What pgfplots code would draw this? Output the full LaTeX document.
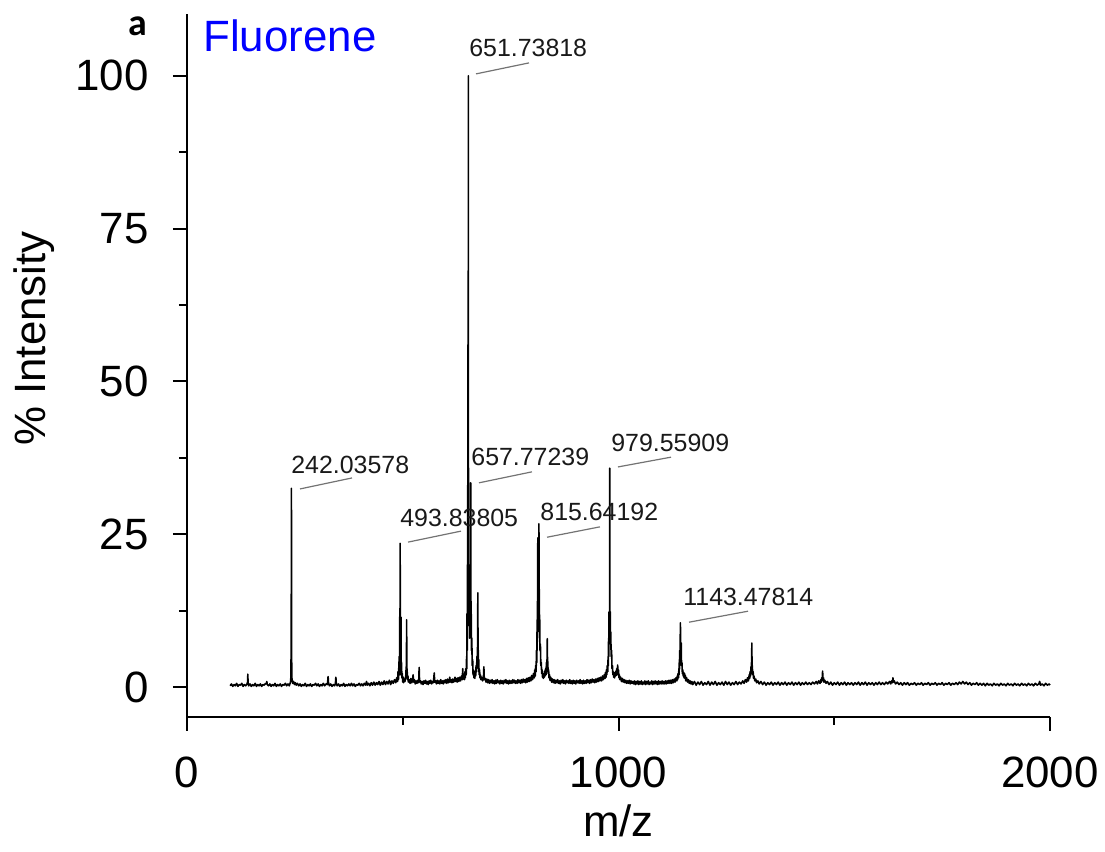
\documentclass[border=0pt]{standalone}
\usepackage{pgfplots}
\pgfplotsset{compat=1.18}
\usepackage{fontspec}
\setmainfont{Liberation Sans}
\newfontfamily\calibri{Carlito}
\definecolor{lead}{gray}{0.45}
\definecolor{ann}{gray}{0.1}
\begin{document}
\begin{tikzpicture}
\useasboundingbox (-93.5bp,-67.65bp) rectangle (459bp,358.35bp);
\begin{axis}[
  at={(0,0)}, anchor=south west,
  scale only axis, width=431.5bp, height=351.35bp,
  xmin=0, xmax=2000, ymin=-4.86, ymax=110.1,
  axis lines*=left,
  axis line style={line width=1bp, black},
  every tick/.style={line width=1bp, black},
  tick align=outside,
  major tick length=7bp, minor tick length=4bp,
  xtick={0,1000,2000}, ytick={0,25,50,75,100},
  minor x tick num=1, minor y tick num=1,
  /pgf/number format/assume math mode=true,
  /pgf/number format/1000 sep={},
  ticklabel style={font=\fontsize{22}{26}\selectfont},
  xticklabel style={anchor=north, inner sep=0pt, yshift=-13bp},
  yticklabel style={anchor=east, inner sep=0pt, xshift=-12bp},
  clip=false,
]
\addplot[black, line width=0.8bp, line join=round] coordinates {
(100,0.2)(103,0.5)(106,0.1)(109,0.4)(112,0.2)(115,0.6)(118,0.1)(121,0.4)(124,0.3)(127,0.6)(130,0.1)(133,0.4)(136,0.2)(139,0.5)(140.5,0.8)(141,2.1)(141.5,0.7)(143,0.2)(146,0.5)(149,0.1)(152,0.4)(155,0.2)(158,0.6)(161,0.1)(164,0.4)(167,0.2)(170,0.5)(173,0.1)(176,0.4)(179,0.3)(182,0.6)(184,0.5)(185,0.9)(186,0.4)(189,0.2)(192,0.5)(195,0.1)(198,0.4)(201,0.2)(204,0.6)(207,0.1)(210,0.4)(213,0.2)(216,0.5)(219,0.1)(222,0.4)(225,0.3)(228,0.6)(231,0.2)(234,0.5)(237,0.2)(239,0.6)
(240.5,1.0)(241,4.5)(241.5,2.0)(242,32.5)(242.5,5.0)(243,1.5)(244,1.0)(245,0.6)(247,0.9)(249,0.4)(251,0.7)(253,0.3)(256,0.6)(259,0.2)(262,0.5)(265,0.1)(268,0.4)(271,0.2)(274,0.6)(277,0.1)(280,0.4)(283,0.2)(286,0.5)(289,0.1)(292,0.4)(295,0.3)(298,0.6)(301,0.2)(304,0.5)(307,0.1)(310,0.4)(313,0.2)(316,0.6)(319,0.2)(322,0.5)(325,0.4)(326,0.8)(327,1.7)(328,0.6)(330,0.2)(333,0.5)(336,0.1)(339,0.4)(342,0.2)(344,0.6)(345,1.6)(346,0.5)(348,0.2)(351,0.5)(354,0.1)(357,0.4)(360,0.2)(363,0.6)(366,0.1)(369,0.4)(372,0.2)(375,0.5)(378,0.2)(381,0.6)(384,0.2)(387,0.5)(390,0.1)(393,0.4)(396,0.3)(399,0.6)(402,0.2)(405,0.5)(408,0.2)(411,0.6)(414,0.3)(416,0.9)(418,0.3)(421,0.6)(424,0.2)(427,0.7)(430,0.3)(433,0.8)(436,0.3)(439,0.7)(442,0.4)(445,0.9)(448,0.3)(451,0.8)(454,0.4)(457,1.0)(460,0.4)(463,0.9)(466,0.5)(469,1.1)(472,0.4)(475,1.0)(478,0.6)(481,1.2)(484,0.7)(486,1.5)(488,0.9)
(489,2.5)(490,1.2)(491,3.5)(492,5.0)(492.5,2.0)(493,11.5)(493.5,3.0)(494,23.5)(494.5,4.0)(495,6.0)(495.5,2.0)(496,11.4)(496.5,2.5)(497,4.0)(498,1.5)(499,2.2)(500,0.8)(501,1.6)(502,0.7)(503,1.3)(505,0.9)(507,1.8)(508,3.3)(508.5,1.5)(509,11.0)(509.5,2.0)(510,3.0)(511,1.2)(512,1.8)(513,0.8)(515,1.2)(517,0.6)(519,1.4)(521,0.7)(523,1.1)(524,2.0)(525,0.8)(527,1.2)(529,0.5)(531,1.0)(533,0.6)(535,1.1)(537,0.7)(538,3.2)(539,0.8)(541,1.0)(543,0.5)(545,0.9)(547,0.4)(549,1.0)(551,0.6)(553,1.1)(555,0.5)(557,0.9)(559,0.4)(561,1.0)(563,0.6)(565,1.1)(567,0.5)(569,0.9)(571,0.7)(573,2.3)(574,0.8)(576,1.0)(578,0.5)(580,1.1)(582,0.6)(584,1.0)(586,0.5)(588,1.2)(590,0.6)(592,1.0)(594,0.5)(596,1.1)(598,0.7)(600,1.2)(602,0.6)(604,1.3)(606,0.7)(608,1.0)(609,1.6)(610,0.8)(612,1.2)(614,0.7)(616,1.3)(618,0.8)(620,1.1)(621,1.6)(622,0.9)(624,1.4)(626,0.8)(628,1.5)(630,0.9)(632,1.6)(634,1.0)(636,1.8)(638,1.2)(639,3.0)(640,1.3)(642,2.0)(643,1.2)(644,2.5)(645,1.5)(646,3.0)(647,2.0)
(648,5.0)(648.5,3.0)(649,12.0)(649.5,6.0)(650,20.0)(650.5,10.0)(651,56.0)(651.3,18.0)(651.6,64.0)(651.8,30.0)(652,100.0)(652.3,25.0)(652.6,20.0)(653,15.0)(653.5,18.0)(654,10.0)(654.5,14.0)(655,8.0)(655.5,17.0)(656,9.0)(656.5,20.0)(657,12.0)(657.5,33.4)(658,10.0)(658.5,14.0)(659,6.0)(660,8.0)(661,3.5)(662,4.5)(663,2.0)(664,2.8)(665,1.5)(666,2.2)(667,1.4)(668,2.6)(669,1.8)(670,3.5)(671,2.5)(672,5.0)(672.5,3.5)(673,6.5)(673.5,4.0)(674,15.4)(674.5,5.0)(675,6.0)(675.5,3.0)(676,4.5)(677,2.0)(678,2.8)(679,1.5)(680,2.0)(681,1.2)(683,1.6)(685,1.0)(687,1.5)(688,3.3)(689,1.2)(691,1.4)(693,0.8)(695,1.3)(697,0.7)(699,1.2)(701,0.6)(703,1.1)(705,0.7)(707,1.2)(709,0.6)(711,1.0)(713,0.5)(715,1.1)(717,0.6)(719,1.2)(721,0.7)(723,1.0)(725,0.5)(727,1.1)(729,0.6)(731,1.0)(733,0.5)(735,1.1)(737,0.7)(739,1.2)(741,0.6)(743,1.0)(745,0.5)(747,1.1)(749,0.6)(751,1.0)(753,0.6)(755,1.2)(757,0.7)(759,1.1)(761,0.6)(763,1.0)(765,0.6)(767,1.2)(769,0.7)(771,1.1)(773,0.6)(775,1.2)(777,0.7)(779,1.3)(781,0.8)(783,1.2)(785,0.7)(787,1.4)(789,0.8)(791,1.5)(793,0.9)(795,1.6)(797,1.0)(799,1.9)(801,1.2)(803,2.2)(805,1.5)(806,2.8)(807,1.8)(808,3.5)(809,2.5)
(810,6.0)(810.5,4.0)(811,9.0)(811.5,6.0)(812,14.0)(812.5,8.0)(813,24.4)(813.5,10.0)(814,14.0)(814.5,12.0)(815,20.0)(815.3,14.0)(815.6,26.7)(816,12.0)(816.5,16.0)(817,9.0)(817.5,11.0)(818,6.0)(819,7.0)(820,3.5)(821,4.0)(822,2.2)(823,2.8)(824,1.6)(825,2.0)(826,1.4)(827,2.2)(828,1.6)(829,2.6)(830,1.8)(831,3.0)(832,2.0)(833,4.0)(833.5,2.5)(834,4.5)(834.5,3.0)(835,7.9)(835.5,3.5)(836,4.2)(837,2.2)(838,2.8)(839,1.5)(840,2.0)(841,1.1)(843,1.6)(845,0.8)(847,1.3)(849,0.7)(851,1.2)(853,0.6)(855,1.1)(857,0.7)(859,1.2)(861,0.6)(863,1.0)(865,0.5)(867,1.1)(869,0.7)(871,1.2)(873,0.6)(875,1.0)(877,0.5)(879,1.1)(881,0.7)(883,1.0)(885,0.6)(887,1.2)(889,0.6)(891,1.0)(893,0.5)(895,1.1)(897,0.6)(899,1.0)(901,0.5)(903,1.1)(905,0.7)(907,1.0)(909,0.6)(911,1.2)(913,0.6)(915,1.0)(917,0.5)(919,1.1)(921,0.6)(923,1.0)(925,0.6)(927,1.2)(929,0.7)(931,1.1)(933,0.6)(935,1.2)(937,0.7)(939,1.3)(941,0.8)(943,1.2)(945,0.7)(947,1.3)(949,0.8)(951,1.4)(953,0.9)(955,1.5)(957,1.0)(959,1.6)(961,1.0)(963,1.8)(965,1.2)(967,2.0)(969,1.4)(970,2.4)(971,1.6)(972,2.8)(973,2.0)(974,3.5)(975,2.5)
(976,5.0)(976.5,3.5)(977,8.0)(977.5,5.0)(978,12.3)(978.5,8.0)(979,11.0)(979.3,9.0)(979.6,35.8)(980,12.0)(980.5,10.0)(981,12.3)(981.5,7.0)(982,9.0)(983,5.0)(984,6.0)(985,3.0)(986,3.5)(987,2.0)(988,2.5)(989,1.6)(990,2.2)(991,1.5)(992,2.4)(993,1.8)(994,2.6)(995,1.9)(996,3.0)(997,2.2)(998,3.6)(999,2.0)(1000,2.8)(1001,1.5)(1002,2.0)(1003,1.2)(1005,1.6)(1007,0.9)(1009,1.4)(1011,0.8)(1013,1.2)(1015,0.7)(1017,1.1)(1019,0.6)(1021,1.0)(1023,0.6)(1025,1.1)(1027,0.5)(1029,1.0)(1031,0.6)(1033,0.9)(1035,0.5)(1037,1.0)(1039,0.4)(1041,0.9)(1043,0.5)(1045,1.0)(1047,0.4)(1049,0.9)(1051,0.5)(1053,1.0)(1055,0.4)(1057,0.8)(1059,0.5)(1061,1.0)(1063,0.4)(1065,0.9)(1067,0.5)(1069,1.0)(1071,0.4)(1073,0.8)(1075,0.5)(1077,1.0)(1079,0.4)(1081,0.9)(1083,0.5)(1085,1.0)(1087,0.5)(1089,0.9)(1091,0.4)(1093,1.0)(1095,0.5)(1097,0.9)(1099,0.5)(1101,1.0)(1103,0.5)(1105,0.9)(1107,0.5)(1109,1.0)(1111,0.5)(1113,1.0)(1115,0.6)(1117,1.1)(1119,0.6)(1121,1.1)(1123,0.6)(1125,1.2)(1127,0.7)(1129,1.3)(1131,0.8)(1133,1.5)(1135,1.0)(1136,1.8)(1137,1.2)(1138,2.2)(1139,1.5)
(1140,3.0)(1140.5,2.0)(1141,4.5)(1141.5,3.0)(1142,6.0)(1142.5,4.0)(1143.5,10.5)(1144,5.0)(1144.5,7.0)(1145,4.0)(1145.5,7.2)(1146,3.5)(1147,4.0)(1148,2.2)(1149,2.8)(1150,1.8)(1151,2.4)(1152,1.5)(1153,2.2)(1154,1.4)(1155,1.9)(1156,1.0)(1158,1.5)(1160,0.8)(1162,1.2)(1164,0.6)(1166,1.0)(1168,0.5)(1170,0.9)(1172,0.4)(1176,0.9)(1180,0.3)(1184,0.8)(1188,0.4)(1192,0.9)(1196,0.3)(1200,0.7)(1204,0.4)(1208,0.9)(1212,0.3)(1216,0.8)(1220,0.4)(1224,0.9)(1228,0.3)(1232,0.7)(1236,0.4)(1240,0.8)(1244,0.3)(1248,0.9)(1252,0.4)(1256,0.8)(1260,0.3)(1264,0.7)(1268,0.4)(1272,0.9)(1276,0.4)(1280,0.8)(1284,0.5)(1288,1.0)(1291,0.6)(1294,1.2)(1297,0.8)(1299,1.5)(1301,1.0)(1303,2.0)(1304,1.4)(1305,2.5)(1306,1.8)(1307,3.3)(1307.5,2.2)(1308,4.0)(1308.5,2.5)(1309,7.2)(1309.5,3.0)(1310,3.5)(1311,2.0)(1312,2.5)(1313,1.4)(1314,1.8)(1316,1.0)(1318,1.3)(1320,0.7)(1323,1.0)(1326,0.5)(1330,0.9)(1334,0.4)(1338,0.8)(1342,0.3)(1346,0.7)(1350,0.4)(1354,0.8)(1358,0.3)(1362,0.7)(1366,0.4)(1370,0.8)(1374,0.3)(1378,0.7)(1382,0.4)(1386,0.8)(1390,0.3)(1394,0.7)(1398,0.4)(1402,0.8)(1406,0.3)(1410,0.7)(1414,0.4)(1418,0.8)(1422,0.3)(1426,0.7)(1430,0.4)(1434,0.8)(1438,0.4)(1442,0.7)(1446,0.4)(1450,0.8)(1454,0.5)(1458,0.9)(1461,0.5)(1464,1.0)(1467,0.6)(1469,1.2)(1470,0.8)(1471,1.5)(1472,1.0)(1473,2.6)(1474,1.1)(1475,1.5)(1476,0.8)(1478,1.1)(1481,0.6)(1484,0.9)(1488,0.4)(1492,0.8)(1496,0.3)
(1500,0.7)(1504,0.4)(1508,0.8)(1512,0.3)(1516,0.7)(1520,0.4)(1524,0.8)(1528,0.3)(1532,0.7)(1536,0.4)(1540,0.7)(1544,0.3)(1548,0.7)(1552,0.4)(1556,0.8)(1560,0.3)(1564,0.7)(1568,0.4)(1572,0.8)(1576,0.3)(1580,0.7)(1584,0.4)(1588,0.7)(1592,0.3)(1596,0.7)(1600,0.4)(1604,0.8)(1608,0.4)(1612,0.7)(1616,0.4)(1620,0.8)(1624,0.5)(1628,0.9)(1631,0.5)(1633,1.0)(1635,0.7)(1636,1.5)(1637,0.8)(1639,1.0)(1642,0.5)(1646,0.8)(1650,0.4)(1654,0.7)(1658,0.3)(1662,0.7)(1666,0.4)(1670,0.7)(1674,0.3)(1678,0.6)(1682,0.4)(1686,0.7)(1690,0.3)(1694,0.6)(1698,0.4)(1702,0.7)(1706,0.3)(1710,0.6)(1714,0.4)(1718,0.7)(1722,0.3)(1726,0.6)(1730,0.4)(1734,0.7)(1738,0.3)(1742,0.6)(1746,0.4)(1750,0.7)(1754,0.3)(1758,0.6)(1762,0.4)(1766,0.7)(1770,0.3)(1774,0.6)(1778,0.4)(1782,0.7)(1786,0.4)(1790,0.8)(1794,0.5)(1798,0.9)(1802,0.5)(1806,0.8)(1810,0.4)(1814,0.7)(1818,0.3)(1822,0.6)(1826,0.4)(1830,0.7)(1834,0.3)(1838,0.6)(1842,0.3)(1846,0.6)(1850,0.2)(1854,0.6)(1858,0.3)(1862,0.5)(1866,0.2)(1870,0.6)(1874,0.3)(1878,0.5)(1882,0.2)(1886,0.6)(1890,0.3)(1894,0.5)(1898,0.2)(1902,0.6)(1906,0.3)(1910,0.5)(1914,0.2)(1918,0.6)(1922,0.3)(1926,0.5)(1930,0.2)(1934,0.6)(1938,0.3)(1942,0.5)(1946,0.2)(1950,0.6)(1954,0.3)(1958,0.5)(1962,0.2)(1966,0.6)(1970,0.3)(1974,0.5)(1976,0.9)(1978,0.3)(1982,0.5)(1986,0.2)(1990,0.6)(1994,0.3)(1998,0.5)(2000,0.3)
};
% peak annotations
\begin{scope}[every node/.style={font=\fontsize{12.5}{15}\selectfont, text=ann, inner sep=0pt, anchor=base west}]
\node at (axis cs:241.0,35.0) {242.03578};
\node at (axis cs:493.6,26.2) {493.83805};
\node at (axis cs:653.5,103.1) {651.73818};
\node at (axis cs:658.2,36.2) {657.77239};
\node at (axis cs:818.1,27.2) {815.64192};
\node at (axis cs:982.6,38.6) {979.55909};
\node at (axis cs:1149.5,13.4) {1143.47814};
\end{scope}
\begin{scope}[lead, line width=0.6bp]
\draw (axis cs:261.9,32.4) -- (axis cs:382.4,34.2);
\draw (axis cs:512.2,23.7) -- (axis cs:635.0,25.5);
\draw (axis cs:669.8,100.3) -- (axis cs:792.6,102.1);
\draw (axis cs:676.7,33.4) -- (axis cs:799.5,35.2);
\draw (axis cs:834.3,24.5) -- (axis cs:957.1,26.2);
\draw (axis cs:998.8,36.0) -- (axis cs:1121.7,37.6);
\draw (axis cs:1163.4,10.6) -- (axis cs:1300.1,12.4);
\end{scope}
\node[anchor=base west, inner sep=0pt, text=blue, font=\fontsize{22}{26}\selectfont] at (axis cs:37.1,103.9) {Fluorene};
\node[anchor=base west, inner sep=0pt, font=\calibri\bfseries\fontsize{19}{22}\selectfont] at (axis cs:-136.7,106.5) {a};
\node[anchor=base, inner sep=0pt, font=\fontsize{22}{26}\selectfont] at (rel axis cs:0.5,-0.1708) {m/z};
\node[anchor=base, inner sep=0pt, rotate=90, font=\fontsize{22}{26}\selectfont] at (rel axis cs:-0.1634,0.538) {\% Intensity};
\end{axis}
\end{tikzpicture}
\end{document}
